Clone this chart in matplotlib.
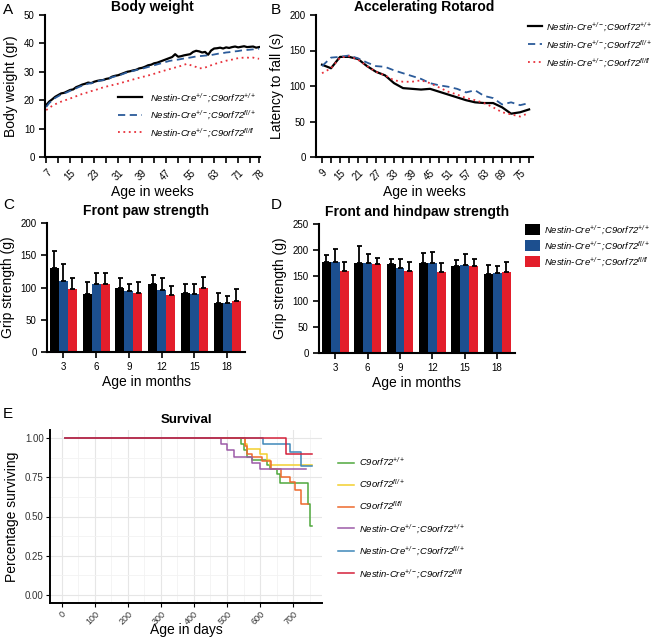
import matplotlib
matplotlib.use("Agg")
import matplotlib.pyplot as plt
import numpy as np
from matplotlib.lines import Line2D
from matplotlib.patches import Patch

plt.rcParams['font.family'] = ['Liberation Sans', 'DejaVu Sans']
plt.rcParams['mathtext.fontset'] = 'custom'
plt.rcParams['mathtext.rm'] = 'Liberation Sans:italic'
plt.rcParams['mathtext.it'] = 'Liberation Sans:italic'
plt.rcParams['mathtext.bf'] = 'Liberation Sans:bold'

W, H = 658, 641

# ---- data ----
GENO_NC = [r"Nestin-Cre$^{+/-}$;C9orf72$^{+/+}$",
           r"Nestin-Cre$^{+/-}$;C9orf72$^{fl/+}$",
           r"Nestin-Cre$^{+/-}$;C9orf72$^{fl/fl}$"]

bw_weeks = list(range(7, 79))
bw_wt = [18.3, 19.5, 20.3, 21.2, 21.8, 22.4, 22.6, 23.1, 23.6, 23.8, 24.6, 25.0,
         25.5, 25.8, 26.2, 26.0, 26.5, 26.8, 27.0, 27.1, 27.5, 27.7, 28.3, 28.6,
         28.8, 29.2, 29.6, 30.0, 30.2, 30.5, 30.7, 31.2, 31.4, 31.8, 32.3, 32.5,
         33.0, 33.2, 33.6, 34.0, 34.4, 34.8, 35.2, 36.2, 35.3, 35.5, 35.8, 36.0,
         36.2, 37.0, 37.4, 37.2, 36.8, 37.0, 36.0, 37.5, 38.2, 38.3, 38.5, 38.2,
         38.6, 38.4, 38.7, 38.9, 38.6, 38.8, 39.0, 38.7, 38.8, 38.9, 38.5, 38.7]
bw_het = [17.6, 19.0, 19.9, 20.8, 21.4, 22.0, 22.4, 22.8, 23.3, 23.7, 24.2, 24.7,
          25.1, 25.5, 25.8, 26.0, 26.3, 26.6, 26.9, 27.1, 27.4, 27.7, 28.1, 28.4,
          28.7, 29.0, 29.4, 29.8, 30.1, 30.3, 30.6, 30.9, 31.1, 31.4, 31.7, 32.0,
          32.3, 32.6, 32.9, 33.2, 33.5, 33.8, 34.0, 34.2, 34.3, 34.5, 34.7, 34.9,
          35.0, 35.2, 35.4, 35.5, 35.6, 35.7, 35.8, 35.9, 36.1, 36.3, 36.5, 36.6,
          36.8, 36.9, 37.1, 37.2, 37.3, 37.5, 37.6, 37.7, 37.8, 37.9, 38.0, 38.1]
bw_hom = [16.5, 17.3, 18.0, 18.6, 19.0, 19.5, 19.9, 20.2, 20.6, 21.0, 21.4, 21.8,
          22.2, 22.5, 22.8, 23.2, 23.4, 23.8, 24.2, 24.5, 24.8, 25.0, 25.3, 25.6,
          25.8, 26.1, 26.4, 26.7, 27.0, 27.3, 27.6, 27.9, 28.2, 28.4, 28.7, 29.0,
          29.3, 29.6, 30.0, 30.3, 30.6, 30.9, 31.2, 31.5, 31.8, 32.1, 32.5, 32.8,
          32.4, 32.0, 31.7, 31.2, 31.3, 31.5, 31.9, 32.3, 32.7, 33.0, 33.3, 33.6,
          33.9, 34.1, 34.3, 34.6, 34.8, 34.9, 35.0, 35.0, 34.9, 35.0, 34.7, 34.6]

rr_weeks = list(range(9, 79, 3))
rr_wt = [130, 125, 141, 141, 138, 128, 120, 115, 104, 97, 96, 95,
         96, 92, 88, 84, 80, 77, 76, 76, 70, 61, 63, 67]
rr_het = [128, 140, 141, 143, 139, 133, 128, 127, 122, 118, 114, 110,
          104, 101, 99, 96, 91, 94, 86, 83, 74, 77, 73, 76]
rr_hom = [118, 125, 140, 142, 137, 128, 120, 115, 108, 106, 106, 108,
          104, 98, 92, 88, 83, 80, 76, 70, 63, 60, 57, 62]

months = ["3", "6", "9", "12", "15", "18"]
fp_mean = {"wt": [131, 90, 100, 105, 92, 76],
           "het": [110, 106, 94, 96, 90, 76],
           "hom": [97, 105, 91, 89, 99, 79]}
fp_err = {"wt": [25, 18, 14, 14, 14, 15],
          "het": [27, 17, 12, 19, 16, 11],
          "hom": [17, 18, 18, 13, 17, 18]}
fh_mean = {"wt": [177, 174, 172, 174, 168, 154],
           "het": [177, 174, 165, 175, 170, 156],
           "hom": [159, 172, 159, 157, 168, 157]}
fh_err = {"wt": [13, 33, 11, 19, 13, 16],
          "het": [25, 17, 18, 21, 21, 12],
          "hom": [18, 13, 17, 18, 14, 19]}

surv_labels = [r"C9orf72$^{+/+}$", r"C9orf72$^{fl/+}$", r"C9orf72$^{fl/fl}$"] + GENO_NC
surv_t = [[10, 541, 550, 560, 575, 622, 630, 650, 660, 745, 752, 756],
          [10, 554, 560, 600, 622, 630, 756],
          [10, 553, 560, 575, 605, 634, 664, 690, 705, 725, 745],
          [10, 483, 500, 520, 575, 600, 740],
          [10, 610, 690, 725, 758],
          [10, 677, 758]]
surv_s = [[1.0, 0.96, 0.92, 0.88, 0.86, 0.83, 0.80, 0.77, 0.71, 0.58, 0.44, 0.44],
          [1.0, 0.96, 0.93, 0.90, 0.86, 0.83, 0.83],
          [1.0, 0.95, 0.90, 0.88, 0.85, 0.80, 0.75, 0.72, 0.67, 0.58, 0.58],
          [1.0, 0.96, 0.92, 0.88, 0.84, 0.80, 0.80],
          [1.0, 0.96, 0.91, 0.82, 0.82],
          [1.0, 0.90, 0.90]]
surv_col = ["#4fa83d", "#f2cf2e", "#ee6a2c", "#9c5ba8", "#3f88b9", "#d4213a"]

BAR_COL = {"wt": "#000000", "het": "#1c4f8f", "hom": "#e31e2b"}
LINE_STY = [("#000000", "-", 1.6), ("#2b5b9a", (0, (4, 2.5)), 1.3), ("#e8303a", (0, (1, 2)), 1.3)]


def px(l, t, r, b):
    return [l / W, 1 - b / H, (r - l) / W, (b - t) / H]


def prism(ax):
    for s in ["top", "right"]:
        ax.spines[s].set_visible(False)
    for s in ["left", "bottom"]:
        ax.spines[s].set_linewidth(1.5)
    ax.tick_params(which="both", direction="out", width=1.2, labelsize=7)
    ax.tick_params(which="major", length=4)
    ax.tick_params(which="minor", length=4)


fig = plt.figure(figsize=(W / 100, H / 100), dpi=100)
fig.patch.set_facecolor("white")

LEG = {"style": "italic", "size": 6.8}

# ---- A body weight ----
axA = fig.add_axes(px(45, 15, 260, 157))
for ys, (c, ls, lw), lab in zip([bw_wt, bw_het, bw_hom], LINE_STY, GENO_NC):
    axA.plot(bw_weeks, ys, color=c, ls=ls, lw=lw, label=lab)
axA.set_xlim(6.6, 78.3)
axA.set_ylim(0, 50)
axA.set_yticks(range(0, 51, 10))
axA.set_xticks([7, 15, 23, 31, 39, 47, 55, 63, 71, 78])
axA.set_xticks(list(range(11, 76, 8)), minor=True)
prism(axA)
plt.setp(axA.get_xticklabels(), rotation=45, ha="right", rotation_mode="anchor")
axA.set_ylabel("Body weight (gr)", fontsize=10)
axA.set_xlabel("Age in weeks", fontsize=10, labelpad=2)
axA.set_title("Body weight", fontsize=10, fontweight="bold", pad=3)
axA.legend(loc="lower right", bbox_to_anchor=(1.0, 0.1), frameon=False,
           prop=LEG, handlelength=2.6, labelspacing=0.5, borderaxespad=0)

# ---- B rotarod ----
axB = fig.add_axes(px(316, 15, 533, 157))
for ys, (c, ls, lw), lab in zip([rr_wt, rr_het, rr_hom], LINE_STY, GENO_NC):
    axB.plot(rr_weeks, ys, color=c, ls=ls, lw=lw, label=lab)
axB.set_xlim(7, 79.3)
axB.set_ylim(0, 200)
axB.set_yticks(range(0, 201, 50))
axB.set_xticks(list(range(9, 76, 6)))
axB.set_xticks(list(range(12, 79, 6)), minor=True)
prism(axB)
plt.setp(axB.get_xticklabels(), rotation=45, ha="right", rotation_mode="anchor")
axB.set_ylabel("Latency to fall (s)", fontsize=10)
axB.set_xlabel("Age in weeks", fontsize=10, labelpad=2)
axB.set_title("Accelerating Rotarod", fontsize=10, fontweight="bold", pad=3)
hB, lB = axB.get_legend_handles_labels()
fig.legend(hB, lB, loc="upper left", bbox_to_anchor=(524 / W, 1 - 16 / H),
           frameon=False, prop=LEG, handlelength=1.5, handletextpad=0.4,
           labelspacing=0.55, borderaxespad=0)


# ---- C / D bars ----
def bars(ax, means, errs, ymax):
    x = np.arange(len(months))
    bwid = 0.275
    for i, k in enumerate(["wt", "het", "hom"]):
        xs = x + (i - 1) * bwid
        ax.bar(xs, means[k], width=bwid, color=BAR_COL[k], edgecolor="none", zorder=2)
        ax.errorbar(xs, means[k], yerr=[np.zeros(len(months)), errs[k]], fmt="none",
                    ecolor="black", elinewidth=1.3, capsize=1.8, capthick=1.3, zorder=3)
    ax.set_xticks(x)
    ax.set_xticklabels(months)
    ax.set_xlim(-0.5, 5.55)
    ax.set_ylim(0, ymax)
    prism(ax)
    ax.set_ylabel("Grip strength (g)", fontsize=10)
    ax.set_xlabel("Age in months", fontsize=10, labelpad=2)


axC = fig.add_axes(px(47, 223, 245, 352))
bars(axC, fp_mean, fp_err, 200)
axC.set_yticks(range(0, 201, 50))
axC.set_title("Front paw strength", fontsize=10, fontweight="bold", pad=6)

axD = fig.add_axes(px(319, 224, 515, 353))
bars(axD, fh_mean, fh_err, 250)
axD.set_yticks(range(0, 251, 50))
axD.set_title("Front and hindpaw strength", fontsize=10, fontweight="bold", pad=6)
hD = [Patch(facecolor=BAR_COL[k], edgecolor="none") for k in ["wt", "het", "hom"]]
fig.legend(hD, GENO_NC, loc="upper left", bbox_to_anchor=(521 / W, 1 - 219 / H),
           frameon=False, prop=LEG, handlelength=1.6, handleheight=1.4,
           handletextpad=0.4, labelspacing=0.35, borderaxespad=0)

# ---- E survival ----
axE = fig.add_axes(px(50, 430, 322, 603))
for t, s, c, lab in zip(surv_t, surv_s, surv_col, surv_labels):
    axE.step(t, s, where="post", color=c, lw=1.1, label=lab)
axE.set_xlim(-35, 787)
axE.set_ylim(-0.05, 1.05)
axE.set_xticks(range(0, 701, 100))
axE.set_xticks(range(50, 751, 100), minor=True)
axE.set_yticks([0, 0.25, 0.5, 0.75, 1.0])
axE.set_yticklabels(["0.00", "0.25", "0.50", "0.75", "1.00"])
axE.set_yticks([0.125, 0.375, 0.625, 0.875], minor=True)
axE.grid(which="major", color="#e6e6e6", lw=0.8)
axE.grid(which="minor", color="#f2f2f2", lw=0.6)
axE.set_axisbelow(True)
for s in ["top", "right"]:
    axE.spines[s].set_visible(False)
for s in ["left", "bottom"]:
    axE.spines[s].set_linewidth(1.4)
axE.tick_params(which="major", length=3, width=0.8, labelsize=6.5, colors="black", pad=1.5)
axE.tick_params(which="minor", length=0)
plt.setp(axE.get_xticklabels(), rotation=45, ha="right", rotation_mode="anchor",
         color="#333333")
plt.setp(axE.get_yticklabels(), color="#333333", fontsize=7)
axE.set_ylabel("Percentage surviving", fontsize=10)
axE.set_xlabel("Age in days", fontsize=10)
axE.xaxis.set_label_coords(0.5, -0.115)
axE.set_title("Survival", fontsize=9.5, fontweight="bold", pad=5)
hE, lE = axE.get_legend_handles_labels()
hE = [Line2D([0], [0], color=c, lw=1.1) for c in surv_col]
fig.legend(hE, lE, loc="upper left", bbox_to_anchor=(334 / W, 1 - 452 / H),
           frameon=False, prop=LEG, handlelength=1.7, handletextpad=0.5,
           labelspacing=1.0, borderaxespad=0)

# ---- panel letters ----
for lab, x, y in [("A", 3, 3), ("B", 271, 3), ("C", 3, 198), ("D", 271, 198), ("E", 3, 407)]:
    fig.text(x / W, 1 - y / H, lab, fontsize=11, va="top", ha="left")

fig.savefig("out.png", dpi=100, facecolor="white")
